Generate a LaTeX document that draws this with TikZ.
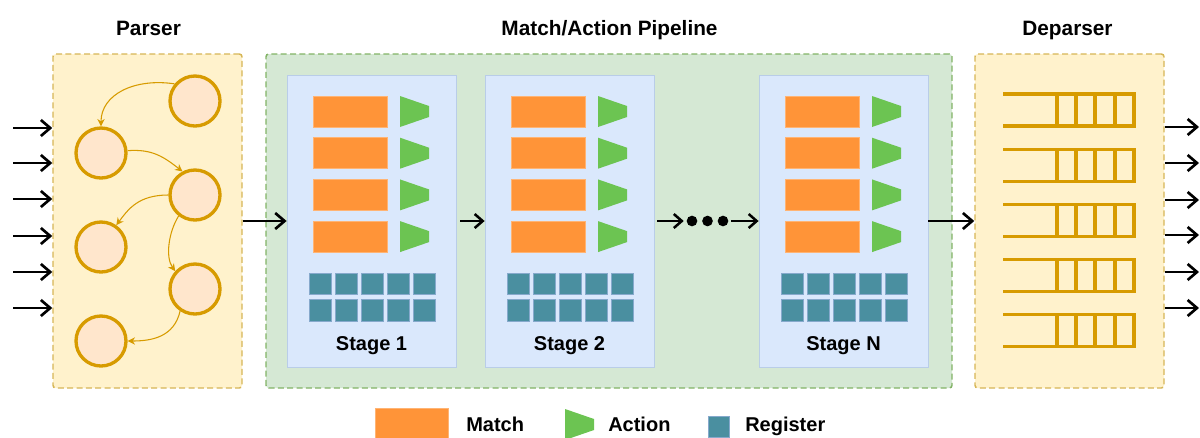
\documentclass[tikz,border=0pt]{standalone}
\usepackage{fontspec}
\setmainfont{Liberation Sans}
\usetikzlibrary{arrows.meta}
\definecolor{parserfill}{HTML}{FFF2CC}
\definecolor{parserline}{HTML}{D6B656}
\definecolor{statefill}{HTML}{FFE6CC}
\definecolor{stateline}{HTML}{D79B00}
\definecolor{pipefill}{HTML}{D5E8D4}
\definecolor{pipeborder}{HTML}{82B366}
\definecolor{stagefill}{HTML}{DAE8FC}
\definecolor{stageline}{HTML}{B9CDE8}
\definecolor{matchcol}{HTML}{FF9438}
\definecolor{actioncol}{HTML}{6CC452}
\definecolor{regcol}{HTML}{4A8FA0}
\definecolor{regline}{HTML}{86A9CC}
\begin{document}
\begin{tikzpicture}[x=0.75pt,y=-0.75pt,
  title/.style={font=\fontsize{15.6}{18}\selectfont\bfseries, inner sep=0pt, anchor=base},
  block/.style={draw=parserline, fill=parserfill, line width=1.1pt,
    dash pattern=on 4.5pt off 2.5pt, rounded corners=2pt, inner sep=0pt,
    minimum width=141.75pt, minimum height=250.5pt},
  pipebox/.style={block, draw=pipeborder, fill=pipefill, minimum width=514.5pt},
  stagebox/.style={draw=stageline, fill=stagefill, line width=0.6pt, inner sep=0pt,
    minimum width=126.75pt, minimum height=219pt},
  pstate/.style={circle, draw=stateline, fill=statefill, line width=2.5pt,
    minimum size=37.5pt, inner sep=0pt},
  parr/.style={draw=stateline, line width=0.8pt, -{Stealth[length=5.5pt,width=5.5pt]}},
  arr/.style={draw=black, line width=2pt, -{Straight Barb[length=7pt,width=12pt]}},
  sarr/.style={draw=black, line width=1.9pt, -{Straight Barb[length=6pt,width=10.5pt]}},
  matchbox/.style={fill=matchcol, draw=matchcol!70!white, line width=0.4pt},
  actionshape/.style={fill=actioncol, draw=none},
  regbox/.style={fill=regcol, draw=regline, line width=0.5pt},
  queue/.style={draw=stateline, line width=2.3pt},
  dot/.style={circle, fill=black, inner sep=0pt, minimum size=8pt},
  lbl/.style={font=\fontsize{15}{18}\selectfont\bfseries, inner sep=0pt}
]
\useasboundingbox (0,0) rectangle (1200,437);
\clip (0,0) rectangle (1200,437);

% titles
\node[title] (tparser) at (148.5,35) {Parser};
\node[title] (tpipe) at (609.5,35) {Match/Action Pipeline};
\node[title] (tdeparser) at (1067.5,35) {Deparser};

% the three blocks
\node[block] (parser) at (147.5,221) {};
\node[pipebox] (pipe) at (609,221) {};
\node[block] (deparser) at (1069.5,221) {};

% parser state machine
\node[pstate] (r1) at (195,101) {};
\node[pstate] (l1) at (101,153) {};
\node[pstate] (r2) at (195,195) {};
\node[pstate] (l2) at (101,247) {};
\node[pstate] (r3) at (195,289) {};
\node[pstate] (l3) at (101,341) {};
\draw[parr] (r1.140) .. controls +(-40,-6) and +(0,-32) .. (l1.north);
\draw[parr] (l1.5) .. controls +(25,-2) and +(-18,-14) .. (r2.118);
\draw[parr] (r2.180) .. controls +(-30,0) and +(12,-16) .. (l2.55);
\draw[parr] (r2.232) .. controls +(-10,16) and +(-10,-14) .. (r3.138);
\draw[parr] (r3.236) .. controls +(-6,26) and +(24,0) .. (l3.east);

% input packets
\foreach \y [count=\i] in {128,163,199,236,272,308} {
  \coordinate (in\i) at (13,\y);
  \draw[arr] (in\i) -- (in\i -| parser.west);
}

% pipeline stages
\foreach \sx/\lab/\nm in {371.5/1/s1, 569.5/2/s2, 843.5/N/sN} {
  \node[stagebox] (\nm) at (\sx,221) {};
  \begin{scope}[shift={(\sx-84.5,0)}]
    \foreach \k in {0,1,2,3} {
      \pgfmathsetmacro{\cy}{111.5+41.7*\k}
      \fill[matchbox] (26,\cy-15.5) rectangle (100,\cy+15.5);
      \fill[actionshape] (113,\cy-15.5) -- (142,\cy-5.5) -- (142,\cy+5.5) -- (113,\cy+15.5) -- cycle;
    }
    \foreach \c in {0,...,4} {
      \foreach \r in {0,1} {
        \filldraw[regbox] (22+26*\c,273+26.5*\r) rectangle (44+26*\c,294.5+26.5*\r);
      }
    }
  \end{scope}
  \node[lbl, anchor=base] (lab\nm) at (\sx,350) {Stage \lab};
}

% flow between blocks and stages
\draw[arr] (parser.east) -- (s1.west);
\draw[sarr, shorten <=3pt] (s1.east) -- (s2.west);
\node[dot] (d1) at (692,221) {};
\node[dot] (d2) at (707.5,221) {};
\node[dot] (d3) at (723,221) {};
\draw[sarr, shorten <=2pt, shorten >=2pt] (s2.east) -- (d1.west);
\draw[sarr, shorten <=2pt] (d3.east) -- (sN.west);
\draw[arr] (sN.east) -- (deparser.west);

% deparser queues
\foreach \k in {0,...,4} {
  \pgfmathsetmacro{\qt}{94+55.2*\k}
  \pgfmathsetmacro{\qb}{\qt+32}
  \draw[queue] (1003,\qt) -- (1134,\qt) -- (1134,\qb) -- (1003,\qb);
  \foreach \vx in {1057,1076,1095,1115} {
    \draw[queue] (\vx,\qt) -- (\vx,\qb);
  }
}

% output packets
\foreach \y [count=\i] in {127,163,200,235,272,308} {
  \coordinate (out\i) at (1199,\y);
  \draw[arr] (out\i -| deparser.east) -- (out\i);
}

% legend
\fill[matchbox] (375,408) rectangle (448,439);
\node[lbl, anchor=base west] (lmatch) at (466,431) {Match};
\fill[actionshape] (565,409) -- (594,419) -- (594,430) -- (565,440) -- cycle;
\node[lbl, anchor=base west] (laction) at (608,431) {Action};
\filldraw[regbox] (708,416) rectangle (729,437.5);
\node[lbl, anchor=base west] (lreg) at (745,431) {Register};
\end{tikzpicture}
\end{document}
